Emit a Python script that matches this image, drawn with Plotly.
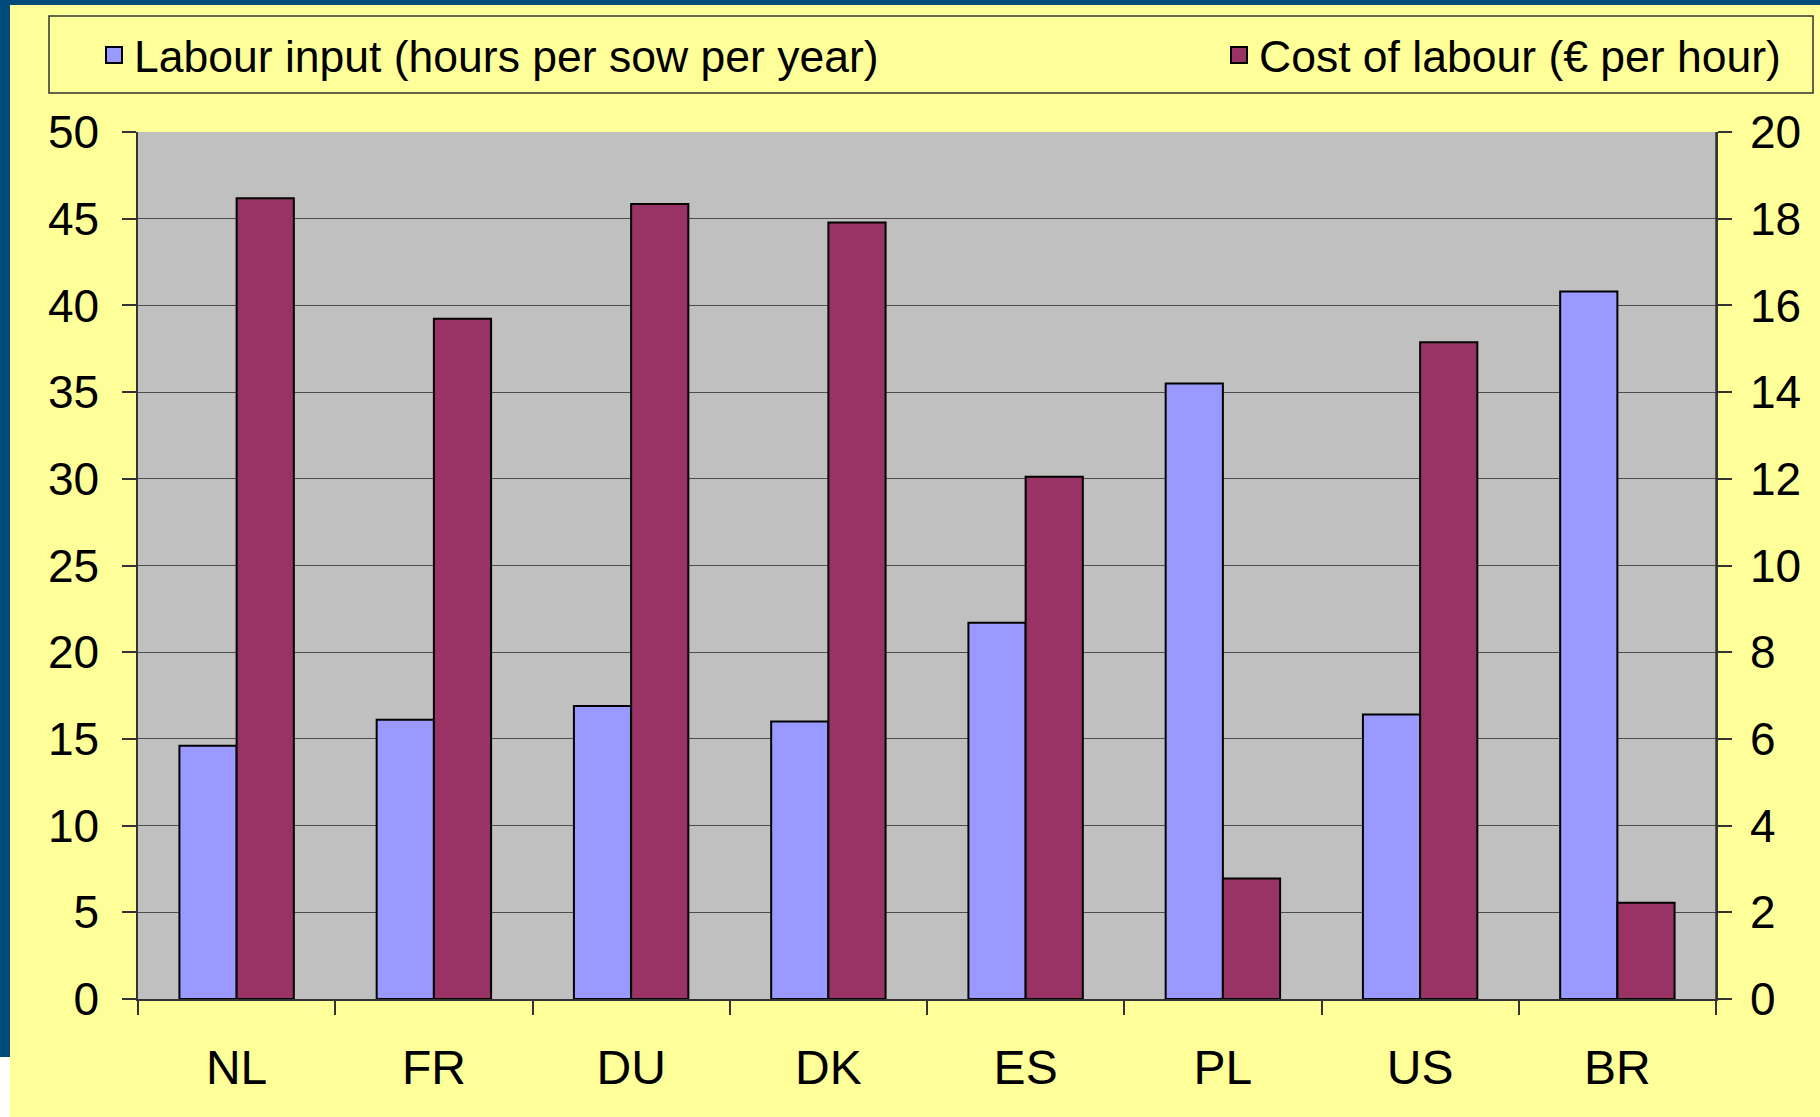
import plotly.graph_objects as go

# dados
paises = ['NL', 'FR', 'DU', 'DK', 'ES', 'PL', 'US', 'BR']
horas_por_porca = [14.6, 16.1, 16.9, 16.0, 21.7, 35.5, 16.4, 40.8]
custo_hora = [18.47, 15.69, 18.34, 17.91, 12.05, 2.78, 15.15, 2.22]

nome_horas = 'Labour input (hours per sow per year)'
nome_custo = 'Cost of labour (€ per hour)'

azul = '#9999FF'
vinho = '#993366'
amarelo = '#FFFF99'
cinza = '#C0C0C0'
moldura = '#004B7B'

W, H = 1820, 1117
L, R, T, B = 138, 104, 132, 118
pw, ph = W - L - R, H - T - B


# converte pixel em coordenada paper
def px_x(p):
    return (p - L) / pw


def px_y(p):
    return (H - B - p) / ph


fig = go.Figure()

fig.add_trace(go.Bar(x=paises, y=horas_por_porca, name=nome_horas, marker_color=azul,
                     marker_line=dict(color='black', width=2), offsetgroup='1',
                     yaxis='y', showlegend=False))
fig.add_trace(go.Bar(x=paises, y=custo_hora, name=nome_custo, marker_color=vinho,
                     marker_line=dict(color='black', width=2), offsetgroup='2',
                     yaxis='y2', showlegend=False))

# entradas da legenda (uma legenda de cada lado, como no original)
fig.add_trace(go.Scatter(x=[None], y=[None], mode='markers', name=nome_horas, legend='legend',
                         marker=dict(symbol='square', size=16, color=azul,
                                     line=dict(color='black', width=2))))
fig.add_trace(go.Scatter(x=[None], y=[None], mode='markers', name=nome_custo, legend='legend2',
                         marker=dict(symbol='square', size=16, color=vinho,
                                     line=dict(color='black', width=2))))

eixo = dict(showline=True, linecolor='#333333', linewidth=1.5, ticks='outside',
            ticklen=14, tickcolor='#333333', tickwidth=1.5)

leg = dict(orientation='h', yanchor='middle', y=px_y(55), bgcolor='rgba(0,0,0,0)',
           borderwidth=0, font=dict(size=44.5), itemwidth=30)

fig.update_layout(
    width=W, height=H,
    margin=dict(l=L, r=R, t=T, b=B),
    paper_bgcolor=amarelo,
    plot_bgcolor=cinza,
    font=dict(family='Liberation Sans, Arial, sans-serif', color='black', size=46),
    barmode='group',
    bargap=0.42,
    bargroupgap=0,
    xaxis=dict(**eixo, tickson='boundaries', showgrid=False,
               tickfont=dict(size=48), ticklabelstandoff=26),
    yaxis=dict(**eixo, range=[0, 50], dtick=5, showgrid=True, gridcolor='#4d4d4d',
               gridwidth=1, zeroline=False, ticklabelstandoff=14),
    yaxis2=dict(**eixo, range=[0, 20], dtick=2, overlaying='y', side='right',
                showgrid=False, zeroline=False, ticklabelstandoff=9),
    legend=dict(**leg, x=px_x(94), xanchor='left'),
    legend2=dict(**leg, x=px_x(1786), xanchor='right'),
    shapes=[
        # moldura azul do slide
        dict(type='rect', xref='paper', yref='paper', x0=px_x(0), x1=px_x(W), y0=px_y(0), y1=px_y(5),
             fillcolor=moldura, line_width=0, layer='below'),
        dict(type='rect', xref='paper', yref='paper', x0=px_x(0), x1=px_x(10), y0=px_y(0), y1=px_y(1057),
             fillcolor=moldura, line_width=0, layer='below'),
        dict(type='rect', xref='paper', yref='paper', x0=px_x(0), x1=px_x(10), y0=px_y(1057), y1=px_y(H),
             fillcolor='white', line_width=0, layer='below'),
        # caixa da legenda
        dict(type='rect', xref='paper', yref='paper', x0=px_x(49), x1=px_x(1813), y0=px_y(16), y1=px_y(93),
             line=dict(color='#333333', width=1.5), fillcolor='rgba(0,0,0,0)'),
        # borda direita da area do grafico
        dict(type='line', xref='paper', yref='paper', x0=1, x1=1, y0=0, y1=1,
             line=dict(color='#333333', width=1.5)),
    ],
)

# tira a margem padrao do body para a figura ocupar a janela inteira
fig.write_html('out.html', config={'displayModeBar': False},
               post_script="document.body.style.margin='0';")
